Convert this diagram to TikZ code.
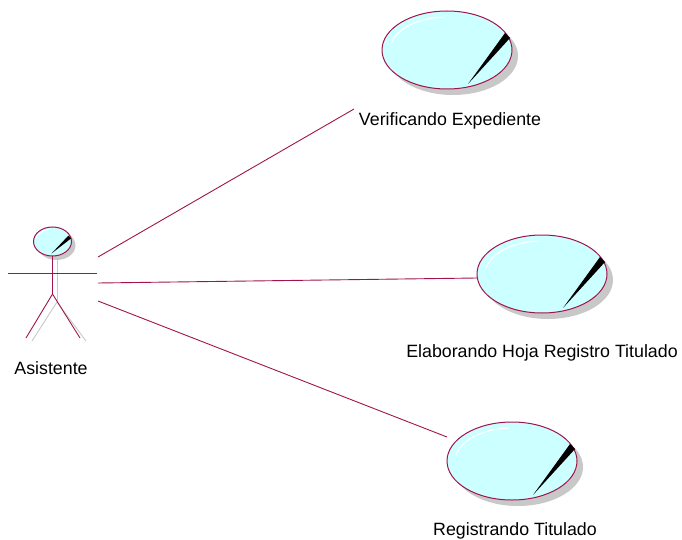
\documentclass[tikz,border=0pt]{standalone}
\usepackage{fontspec}
\setmainfont{Liberation Sans}
\usetikzlibrary{shapes.geometric}
\definecolor{umlline}{RGB}{160,20,75}
\definecolor{ucfill}{RGB}{204,255,255}
\definecolor{shadowgray}{RGB}{200,200,200}
\begin{document}
\begin{tikzpicture}[x=1pt,y=-1pt,
  conn/.style={draw=umlline,line width=0.9pt},
  lbl/.style={anchor=base,inner sep=0pt,font=\fontsize{17.8}{20}\selectfont},
  ucshadow/.style={fill=shadowgray,draw=none},
  ucbody/.style={fill=ucfill,draw=umlline,line width=1pt},
  shine/.style={draw=white,line width=1.1pt},
  wedge/.style={fill=black,draw=none}]
\useasboundingbox (0,0) rectangle (682,540);

% use cases
\foreach \n/\cx/\cy in {uc1/447/50, uc2/542/274, uc3/512/461}{
  \fill[ucshadow] (\cx+6,\cy+6) ellipse [x radius=65, y radius=39];
  \node[ellipse,minimum width=130pt,minimum height=78pt,inner sep=0pt,ucbody] (\n) at (\cx,\cy) {};
  \draw[shine] (\cx-56.1,\cy-5.7) arc [start angle=170, end angle=93, x radius=57, y radius=-33];
  \fill[wedge] (\cx+21,\cy+34) -- (\cx+58,\cy-17) -- (\cx+63,\cy-12) -- cycle;
}

\node[lbl] (t1) at (450,126) {Verificando Expediente};
\node[lbl] (t2) at (542,357) {Elaborando Hoja Registro Titulado};
\node[lbl] (t3) at (515,535.5) {Registrando Titulado};

% actor
\fill[shadowgray] (56.5,245.5) ellipse [x radius=19, y radius=14.5];
\draw[draw=shadowgray,line width=0.9pt] (57,258) -- (57,302);
\draw[draw=shadowgray,line width=0.9pt] (32,341) -- (57,302) -- (86,341);
\node[ellipse,minimum width=38pt,minimum height=29pt,inner sep=0pt,ucbody] (head) at (52.5,241.5) {};
\draw[shine,line width=0.8pt] (36,238) arc [start angle=165, end angle=100, x radius=16, y radius=-12];
\fill[wedge] (51.5,253.5) -- (68.5,235.5) -- (71,238.5) -- cycle;
\coordinate (neck) at (52.5,256);
\coordinate (hip) at (52.5,294);
\coordinate (handL) at (8,273);
\coordinate (handR) at (97,273);
\coordinate (footL) at (26,338);
\coordinate (footR) at (80,338);
\draw[conn] (neck) -- (hip);
\draw[conn] (handL) -- (handR);
\draw[conn] (footL) -- (hip) -- (footR);
\node[lbl] (actor) at (51,374) {Asistente};

% associations
\coordinate (a1) at (98,257);
\coordinate (a2) at (98,283);
\coordinate (a3) at (98,301);
\coordinate (e1) at (354,109);
\coordinate (e2) at (477,278);
\coordinate (e3) at (447,437);
\draw[conn] (a1) -- (e1);
\draw[conn] (a2) -- (e2);
\draw[conn] (a3) -- (e3);
\end{tikzpicture}
\end{document}
